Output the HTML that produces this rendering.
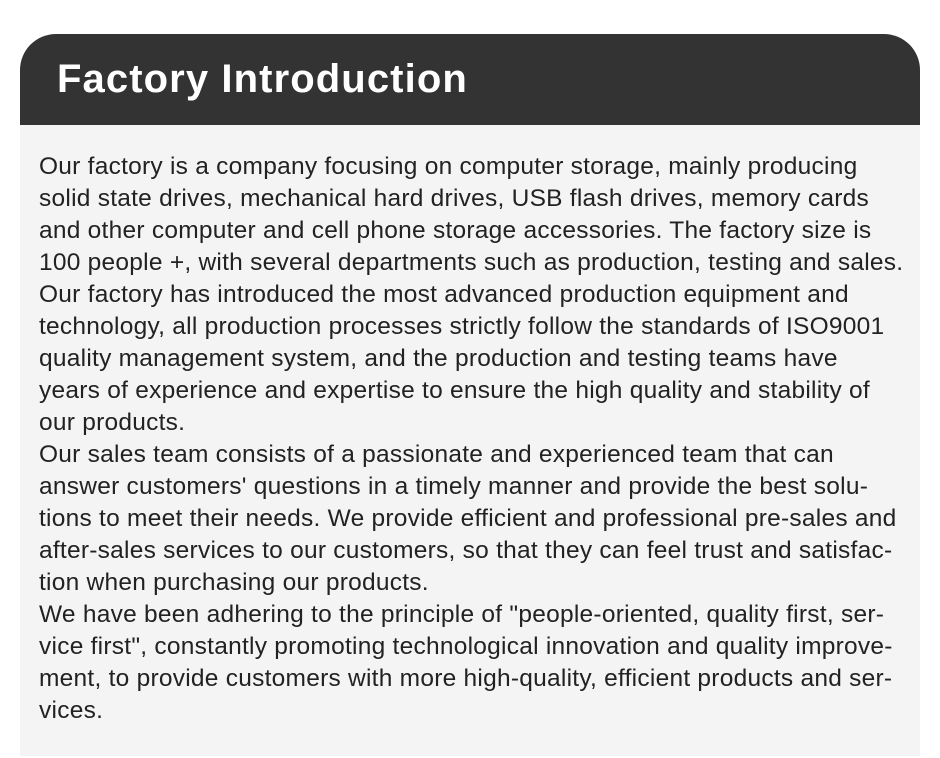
<!DOCTYPE html>
<html><head><meta charset="utf-8"><style>
html,body{margin:0;padding:0;background:#fff;width:940px;height:758px;overflow:hidden}
.hd{position:absolute;left:20px;top:34px;width:900px;height:91px;background:#333;border-radius:36px 36px 0 0}
.hd span{position:absolute;left:37px;top:20px;font:bold 40px/50px "Liberation Sans",sans-serif;color:#fff;letter-spacing:1.1px}
.bd{position:absolute;left:20px;top:125px;width:900px;height:631px;background:#f4f4f4}
.tx{position:absolute;left:39px;top:151px;font:24.5px/32px "Liberation Sans",sans-serif;color:#222;letter-spacing:0.25px}
.tx div{white-space:nowrap}
</style></head><body>
<div class="hd"><span>Factory Introduction</span></div>
<div class="bd"></div>
<div class="tx">
<div>Our factory is a company focusing on computer storage, mainly producing</div>
<div>solid state drives, mechanical hard drives, USB flash drives, memory cards</div>
<div>and other computer and cell phone storage accessories. The factory size is</div>
<div>100 people +, with several departments such as production, testing and sales.</div>
<div>Our factory has introduced the most advanced production equipment and</div>
<div>technology, all production processes strictly follow the standards of ISO9001</div>
<div>quality management system, and the production and testing teams have</div>
<div>years of experience and expertise to ensure the high quality and stability of</div>
<div>our products.</div>
<div>Our sales team consists of a passionate and experienced team that can</div>
<div>answer customers' questions in a timely manner and provide the best solu-</div>
<div>tions to meet their needs. We provide efficient and professional pre-sales and</div>
<div>after-sales services to our customers, so that they can feel trust and satisfac-</div>
<div>tion when purchasing our products.</div>
<div>We have been adhering to the principle of "people-oriented, quality first, ser-</div>
<div>vice first", constantly promoting technological innovation and quality improve-</div>
<div>ment, to provide customers with more high-quality, efficient products and ser-</div>
<div>vices.</div>
</div>
</body></html>
